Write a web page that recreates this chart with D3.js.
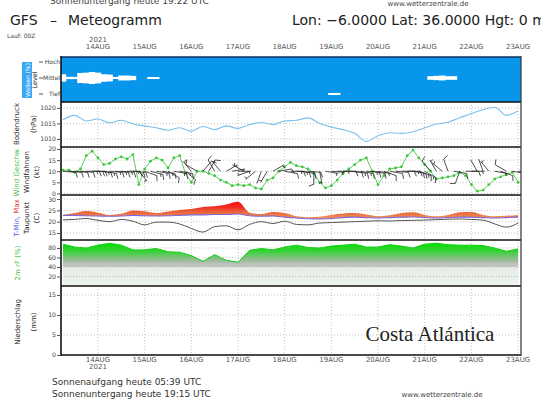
<!DOCTYPE html>
<html><head><meta charset="utf-8">
<script src="https://cdn.jsdelivr.net/npm/d3@7"></script>
<style>body{margin:0;background:#fff}svg{display:block}</style>
</head><body><svg id="c" width="541" height="400" font-family="DejaVu Sans, sans-serif"></svg>
<script>
// ---------------- data ----------------
const dayLabels = ["14AUG","15AUG","16AUG","17AUG","18AUG","19AUG","20AUG","21AUG","22AUG","23AUG"];
const yearLabel = "2021";
const cloudLevels = ["Hoch","Mittel","Tief"];
const pressureTicks = [1010,1015,1020];
const windTicks = [0,5,10,15,20];
const tempTicks = [15,20,25,30];
const rhTicks = [20,40,60,80];
const precipTicks = [0,5,10,15];

// 6-hourly series from 13AUG 06Z
const pressure = [1016.2,1017.6,1015.8,1016.4,1015.2,1016.0,1014.8,1014.2,1013.6,1012.8,
  1013.6,1012.5,1014.0,1013.0,1014.2,1013.4,1014.6,1015.3,1014.6,1015.8,
  1016.0,1016.8,1015.0,1013.8,1013.0,1011.8,1009.2,1011.0,1012.0,1011.8,
  1012.3,1013.6,1014.8,1015.4,1016.8,1018.2,1019.4,1020.2,1017.6,1019.0];
const tMax = [23.0,23.8,24.7,24.0,23.0,23.5,25.0,24.6,23.8,24.5,
  25.2,25.6,26.5,26.8,27.6,28.8,24.0,23.4,24.3,23.8,
  22.4,22.0,22.2,23.0,23.6,23.8,23.2,22.4,22.8,23.8,
  24.2,23.0,22.4,23.0,24.2,24.3,23.0,22.4,22.6,23.0];
const tMin = [22.8,22.8,22.6,22.5,22.4,22.5,22.8,22.6,22.5,22.6,
  22.8,23.0,23.0,23.2,23.2,23.4,22.6,22.4,22.5,22.0,
  21.6,21.3,21.2,21.4,21.8,22.0,21.8,21.6,21.8,22.0,
  22.1,21.8,21.6,21.8,22.0,22.0,21.8,21.6,21.8,22.0];
const dewPoint = [20.8,21.0,21.4,20.6,20.0,21.0,20.2,18.6,19.8,19.8,
  19.0,17.0,15.4,17.8,18.2,16.4,18.8,20.0,19.2,20.2,
  18.8,18.6,19.4,19.6,19.8,20.0,20.2,20.4,20.3,20.5,
  20.6,20.7,20.9,21.1,21.2,21.0,20.7,19.0,17.6,19.4];
const relHum = [88,82,80,86,90,86,76,76,79,72,
  71,64,52,66,54,50,75,79,76,82,
  86,81,80,84,86,88,82,82,87,84,
  80,88,90,87,86,86,85,80,73,78];

// 3-hourly series from 13AUG 06Z
const windSpeed = [10.5,10.5,9.5,11,17,19,16,13,13.5,15.5,
  16.5,15.5,17.5,4,11,14.5,16,15,11.5,16,
  17,9,5,10,10,9,8,6,5,3.5,
  4,3.5,4,2.5,2,6,7,10,12,14,
  12.5,12,11,9,5,2.5,3.5,6,9,11,
  13,15,16,10,4,8,11,11.5,12,17,
  19.5,16,13,10,6.5,7,7.5,8,9.5,8,
  4,1,1.5,4,6.5,7.5,8.5,9.5,5];
const windDir = [95,95,95,95,90,90,95,100,95,95,
  95,90,95,140,110,105,100,100,120,100,
  100,130,320,300,40,30,330,320,60,80,
  90,300,250,230,200,210,60,80,100,90,
  95,100,95,180,170,100,95,90,90,95,
  100,100,95,100,100,110,100,95,90,90,
  100,110,120,320,330,310,340,100,200,90,
  90,330,340,320,100,110,300,100,90];
const cloudHigh = [0,0,0,0,0,0,0,0,0,0, 0,0,0,0,0,0,0,0,0,0, 0,0,0,0,0,0,0,0,0,0, 0,0,0,0,0,0,0,0,0,0,
  0,0,0,0,0,0,0,0,0,0, 0,0,0,0,0,0,0,0,0,0, 0,0,0,0,0,0,0,0,0,0, 0,0,0,0,0,0,0,0,0];
const cloudMid = [50,10,10,70,75,85,75,50,45,8, 30,30,25,0,0,8,8,0,0,0, 0,0,0,0,0,0,0,0,0,0, 0,0,0,0,0,0,0,0,0,0,
  0,0,0,0,0,0,0,0,0,0, 0,0,0,0,0,0,0,0,0,0, 0,0,0,20,25,30,20,20,0,0, 0,0,0,0,0,0,0,0,0];
const cloudLow = [0,0,0,0,0,0,0,0,0,0, 0,0,0,0,0,0,0,0,0,0, 0,0,0,0,0,0,0,0,0,0, 0,0,0,0,0,0,0,0,0,0,
  0,0,0,0,0,0,8,8,0,0, 0,0,0,0,0,0,0,0,0,0, 0,0,0,0,0,0,0,0,0,0, 0,0,0,0,0,0,0,0,0];

// ---------------- layout ----------------
const svg = d3.select("#c");
const L = 61, R = 521;
const t0 = Date.UTC(2021,7,13,6);
const H = 3600*1000;
const x = d3.scaleUtc().domain([new Date(Date.UTC(2021,7,13,5)), new Date(Date.UTC(2021,7,23,1,30))]).range([L,R]);
const t6 = (d,i)=> new Date(t0 + i*6*H);
const t3 = (d,i)=> new Date(t0 + i*3*H);
const dayTimes = dayLabels.map((d,i)=> new Date(Date.UTC(2021,7,14+i)));

const panels = {
  cloud:[57,102], pres:[102,147], wind:[147,195], temp:[195,240], rh:[240,286], prec:[286,355]
};
const yP = d3.scaleLinear().domain([1007.4,1021.9]).range([147,102]);
const yW = d3.scaleLinear().domain([-0.7,20.9]).range([195,147]);
const yT = d3.scaleLinear().domain([11.9,31.8]).range([240,195]);
const yH = d3.scaleLinear().domain([0,96.8]).range([286,240]);
const yR = d3.scaleLinear().domain([0,17.25]).range([355,286]);

const defs = svg.append("defs");
defs.append("clipPath").attr("id","clip").append("rect").attr("x",L).attr("y",57).attr("width",R-L).attr("height",355-57);

// cloud panel
svg.append("rect").attr("x",L).attr("y",57).attr("width",R-L).attr("height",45).attr("fill","#0796ea");
const levelY = d3.scalePoint().domain(cloudLevels).range([62,94]);
const step3 = x(new Date(t0+3*H)) - x(new Date(t0));
const cg = svg.append("g").attr("clip-path","url(#clip)");
[[cloudHigh,"Hoch"],[cloudMid,"Mittel"],[cloudLow,"Tief"]].forEach(([arr,lv])=>{
  const pts = arr.map((d,i)=>({d,t:t3(d,i)})).filter(p=>p.d>0);
  cg.selectAll(null).data(pts).join("rect")
    .attr("x",p=>x(p.t)-step3/2-0.3)
    .attr("width",step3+0.6)
    .attr("y",p=>levelY(lv)-p.d*0.13/2-0.5)
    .attr("height",p=>p.d*0.13+1)
    .attr("fill","#fff");
});
svg.append("line").attr("x1",L).attr("x2",R).attr("y1",57).attr("y2",57).attr("stroke","#103060").attr("stroke-width",1.5);

// grids
function grid(yScale, ticks){
  svg.append("g").selectAll(null).data(ticks).join("line")
    .attr("x1",L).attr("x2",R).attr("y1",d=>yScale(d)).attr("y2",d=>yScale(d))
    .attr("stroke","#aaa").attr("stroke-width",0.7).attr("stroke-dasharray","1,2");
}
function vgrid(y0,y1){
  svg.append("g").selectAll(null).data(dayTimes).join("line")
    .attr("x1",d=>x(d)).attr("x2",d=>x(d)).attr("y1",y0).attr("y2",y1)
    .attr("stroke","#aaa").attr("stroke-width",0.7).attr("stroke-dasharray","1,2");
}
["pres","wind","temp","rh","prec"].forEach(k=>vgrid(panels[k][0],panels[k][1]));
grid(yP,pressureTicks); grid(yW,windTicks); grid(yT,tempTicks); grid(yR,precipTicks);

// humidity area
const grad = defs.append("linearGradient").attr("id","rhg").attr("gradientUnits","userSpaceOnUse")
  .attr("x1",0).attr("x2",0).attr("y1",yH(100)).attr("y2",yH(0));
[[0,"#00e000"],[0.2,"#18d818"],[0.34,"#5ccb5c"],[0.47,"#9dbd9d"],[0.52,"#b8bfb8"],[0.595,"#c6c8c6"],[0.605,"#e4ece4"],[1,"#eef4ee"]]
  .forEach(([o,c])=>grad.append("stop").attr("offset",o).attr("stop-color",c));
svg.append("path").attr("clip-path","url(#clip)")
  .attr("d",d3.area().x((d,i)=>x(t6(d,i))).y0(yH(0)).y1(d=>yH(d))(relHum))
  .attr("fill","url(#rhg)");
svg.append("path").attr("clip-path","url(#clip)")
  .attr("d",d3.line().x((d,i)=>x(t6(d,i))).y(d=>yH(d))(relHum))
  .attr("fill","none").attr("stroke","#10d010").attr("stroke-width",1);
grid(yH,rhTicks);

// pressure
svg.append("path").attr("clip-path","url(#clip)")
  .attr("d",d3.line().x((d,i)=>x(t6(d,i))).y(d=>yP(d)).curve(d3.curveMonotoneX)(pressure))
  .attr("fill","none").attr("stroke","#7cc0ee").attr("stroke-width",1.1);

// temperature
const tg = defs.append("linearGradient").attr("id","tg").attr("gradientUnits","userSpaceOnUse")
  .attr("x1",0).attr("x2",0).attr("y1",yT(29)).attr("y2",yT(22));
[[0,"#ff0a0a"],[0.35,"#f02a20"],[0.65,"#ea6038"],[1,"#f08a50"]].forEach(([o,c])=>tg.append("stop").attr("offset",o).attr("stop-color",c));
const tBand = tMax.map((v,i)=>({hi:v,lo:tMin[i]}));
svg.append("path").attr("clip-path","url(#clip)")
  .attr("d",d3.area().x((d,i)=>x(t6(d,i))).y0(d=>yT(d.lo)).y1(d=>yT(d.hi)).curve(d3.curveMonotoneX)(tBand))
  .attr("fill","url(#tg)");
svg.append("path").attr("clip-path","url(#clip)")
  .attr("d",d3.line().x((d,i)=>x(t6(d,i))).y(d=>yT(d)).curve(d3.curveMonotoneX)(tMin))
  .attr("fill","none").attr("stroke","#7d6ad8").attr("stroke-width",1.1);
svg.append("path").attr("clip-path","url(#clip)")
  .attr("d",d3.line().x((d,i)=>x(t6(d,i))).y(d=>yT(d)).curve(d3.curveMonotoneX)(dewPoint))
  .attr("fill","none").attr("stroke","#555").attr("stroke-width",1);

// wind speed
const wg = svg.append("g").attr("clip-path","url(#clip)");
wg.append("path").attr("d",d3.line().x((d,i)=>x(t3(d,i))).y(d=>yW(d))(windSpeed))
  .attr("fill","none").attr("stroke","#5ad05a").attr("stroke-width",1);
wg.selectAll(null).data(windSpeed).join("circle")
  .attr("cx",(d,i)=>x(t3(d,i))).attr("cy",d=>yW(d)).attr("r",1.4).attr("fill","#3cc83c");

// wind barbs
const barbY = yW(10);
const bg = svg.append("g").attr("clip-path","url(#clip)").attr("stroke","#222").attr("stroke-width",0.8).attr("fill","none");
windSpeed.forEach((s,i)=>{
  const px = x(t3(s,i)), a = windDir[i]*Math.PI/180;
  const ux = Math.sin(a), uy = -Math.cos(a);
  const nx = -uy, ny = ux;
  const Ls = 13, F = 5;
  let d = `M${px},${barbY}L${px+ux*Ls},${barbY+uy*Ls}`;
  const n5 = Math.round(s/5);
  const full = Math.floor(n5/2), half = n5%2;
  let pos = Ls;
  for(let k=0;k<full;k++){
    const bx = px+ux*pos, by = barbY+uy*pos;
    d += `M${bx},${by}L${bx+nx*F+ux*2},${by+ny*F+uy*2}`;
    pos -= 2.5;
  }
  if(half){
    if(full===0) pos -= 2;
    const bx = px+ux*pos, by = barbY+uy*pos;
    d += `M${bx},${by}L${bx+nx*F*0.55+ux*1},${by+ny*F*0.55+uy*1}`;
  }
  bg.append("path").attr("d",d);
});

// panel separators and frame
[102,147,195,240,286,355].forEach(y=>{
  svg.append("line").attr("x1",L).attr("x2",R).attr("y1",y).attr("y2",y).attr("stroke","#111").attr("stroke-width",1.6);
});
svg.append("line").attr("x1",L).attr("x2",L).attr("y1",56).attr("y2",356).attr("stroke","#111").attr("stroke-width",1.6);
svg.append("line").attr("x1",R).attr("x2",R).attr("y1",56).attr("y2",356).attr("stroke","#333").attr("stroke-width",1.2);

// y axes
function yaxis(scale, ticks){
  const ax = d3.axisLeft(scale).tickValues(ticks).tickSize(4).tickPadding(1).tickFormat(d3.format("d"));
  const g = svg.append("g").attr("transform",`translate(${L},0)`).call(ax);
  g.select(".domain").remove();
  g.attr("font-family",null).attr("font-size",null);
  g.selectAll("text").attr("font-size",6.2).attr("fill","#444");
  g.selectAll("line").attr("stroke","#555");
}
yaxis(yP,pressureTicks); yaxis(yW,windTicks); yaxis(yT,tempTicks); yaxis(yH,rhTicks); yaxis(yR,precipTicks);
// cloud level labels
const lv = svg.append("g");
lv.selectAll(null).data(cloudLevels).join("line")
  .attr("x1",39).attr("x2",43).attr("y1",d=>levelY(d)).attr("y2",d=>levelY(d)).attr("stroke","#555");
lv.selectAll(null).data(cloudLevels).join("text")
  .attr("x",60).attr("y",d=>levelY(d)+2.2).attr("text-anchor","end").attr("font-size",6).attr("fill","#444").text(d=>d);

// x axes (top and bottom)
function xlab(y){
  svg.append("g").selectAll(null).data(dayTimes).join("text")
    .attr("x",d=>x(d)).attr("y",y).attr("text-anchor","middle").attr("font-size",7).attr("fill","#555")
    .text((d,i)=>dayLabels[i]);
}
xlab(49); xlab(362);
svg.append("text").attr("x",x(dayTimes[0])).attr("y",42).attr("text-anchor","middle").attr("font-size",7).attr("fill","#555").text(yearLabel);
svg.append("text").attr("x",x(dayTimes[0])).attr("y",369).attr("text-anchor","middle").attr("font-size",7).attr("fill","#555").text(yearLabel);

// left labels
function vlabel(xp, yc, parts, fs){
  const t = svg.append("text").attr("transform",`translate(${xp},${yc}) rotate(-90)`).attr("text-anchor","middle").attr("font-size",fs||7);
  parts.forEach(([s,c])=>t.append("tspan").attr("fill",c).text(s));
}
svg.append("rect").attr("x",22).attr("y",62).attr("width",10).attr("height",36).attr("fill","#3aa8f4");
vlabel(30,80,[["Wolken (%)","#fff"]],6);
vlabel(37,80,[["Level","#222"]],6.5);
vlabel(19,124,[["Bodendruck","#222"]]);
vlabel(36,124,[["(hPa)","#222"]]);
vlabel(19,172,[["Wind Geschw.","#3cbf3c"]]);
vlabel(29,172,[["Windfahnen","#222"]]);
vlabel(39,172,[["(kt)","#222"]]);
vlabel(19,218,[["T-Min, ","#4050e0"],["Max","#e03030"]]);
vlabel(29,218,[["Taupunkt","#222"]]);
vlabel(39,218,[["(C)","#222"]]);
vlabel(20,263,[["2m rF (%)","#40c040"]]);
vlabel(20,322,[["Niederschlag","#222"]]);
vlabel(36,322,[["(mm)","#222"]]);

// titles
svg.append("text").attr("x",50).attr("y",4).attr("font-size",9).attr("fill","#444").text("Sonnenuntergang heute 19:22 UTC");
svg.append("text").attr("x",428).attr("y",6).attr("text-anchor","middle").attr("font-size",7).attr("fill","#444").text("www.wetterzentrale.de");
svg.append("text").attr("x",10).attr("y",25).attr("font-size",14).attr("fill","#222").text("GFS");
svg.append("text").attr("x",50).attr("y",25).attr("font-size",14).attr("fill","#222").text("–");
svg.append("text").attr("x",68).attr("y",25).attr("font-size",14).attr("fill","#222").text("Meteogramm");
svg.append("text").attr("x",292).attr("y",25).attr("font-size",14).attr("fill","#222").text("Lon: −6.0000  Lat: 36.0000  Hgt: 0 m");
svg.append("text").attr("x",7).attr("y",38).attr("font-size",6).attr("fill","#444").text("Lauf: 00Z");
svg.append("text").attr("x",52).attr("y",385).attr("font-size",9).attr("fill","#333").text("Sonnenaufgang heute 05:39 UTC");
svg.append("text").attr("x",52).attr("y",397).attr("font-size",9).attr("fill","#333").text("Sonnenuntergang heute 19:15 UTC");
svg.append("text").attr("x",442).attr("y",397).attr("text-anchor","middle").attr("font-size",7).attr("fill","#444").text("www.wetterzentrale.de");
svg.append("text").attr("x",430).attr("y",341).attr("text-anchor","middle").attr("font-size",21).attr("font-family","Liberation Serif, serif").attr("fill","#222").text("Costa Atlántica");
</script></body></html>
